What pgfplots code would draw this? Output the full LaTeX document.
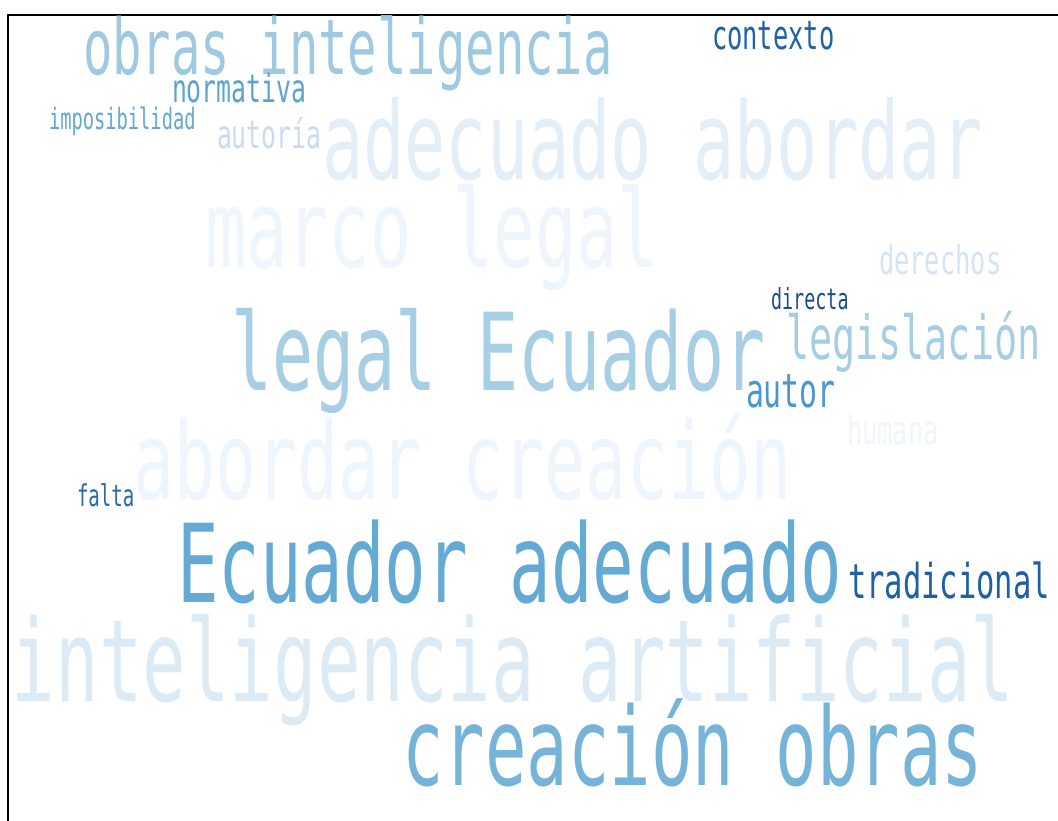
\documentclass[border=0pt]{standalone}
\usepackage{fontspec}
\setmainfont[FakeStretch=0.635]{DejaVu Sans Mono}
\usepackage{xcolor}
\usepackage{pgfplots}
\pgfplotsset{compat=1.18}

\definecolor{cA}{HTML}{9ECAE1}
\definecolor{cB}{HTML}{1F62A8}
\definecolor{cC}{HTML}{5BA3D0}
\definecolor{cD}{HTML}{62A8D3}
\definecolor{cE}{HTML}{C9DCEF}
\definecolor{cF}{HTML}{E3EEF9}
\definecolor{cG}{HTML}{EFF5FC}
\definecolor{cH}{HTML}{D4E4F4}
\definecolor{cI}{HTML}{1C4C8C}
\definecolor{cJ}{HTML}{A6CEE4}
\definecolor{cK}{HTML}{A5CDE3}
\definecolor{cL}{HTML}{4A98C9}
\definecolor{cM}{HTML}{EEF5FC}
\definecolor{cN}{HTML}{EEF5FC}
\definecolor{cO}{HTML}{2A68AB}
\definecolor{cP}{HTML}{65AAD4}
\definecolor{cQ}{HTML}{1F5FA4}
\definecolor{cR}{HTML}{DCEAF6}
\definecolor{cS}{HTML}{75B4D8}

\newcommand{\wordat}[5]{%
  \addplot[only marks, mark=none, point meta=x,
    nodes near coords={#5},
    every node near coord/.append style={anchor=base west, inner sep=0pt, outer sep=0pt,
      font=\fontsize{#3}{#3}\selectfont, text=#4},
  ] coordinates {(#1,#2)};%
}

\begin{document}
\begin{tikzpicture}
\begin{axis}[
  name=ax,
  width=1058pt, height=821pt, scale only axis,
  xmin=0, xmax=1058, ymin=0, ymax=821, y dir=reverse,
  hide axis, clip=false,
]
\wordat{83}{75}{77}{cA}{obras inteligencia}
\wordat{712}{50}{40}{cB}{contexto}
\wordat{172}{103}{39}{cC}{normativa}
\wordat{49}{130}{29.5}{cD}{imposibilidad}
\wordat{217}{149}{39}{cE}{autoría}
\wordat{322}{180}{108}{cF}{adecuado abordar}
\wordat{205}{268}{108}{cG}{marco legal}
\wordat{879}{275}{40}{cH}{derechos}
\wordat{771}{309}{29}{cI}{directa}
\wordat{231}{390}{107.5}{cJ}{legal Ecuador}
\wordat{786}{359}{60.5}{cK}{legislación}
\wordat{746}{407}{47}{cL}{autor}
\wordat{847}{444}{40}{cM}{humana}
\wordat{133}{499}{107.7}{cN}{abordar creación}
\wordat{77}{506}{30}{cO}{falta}
\wordat{177}{602}{108.8}{cP}{Ecuador adecuado}
\wordat{848}{598}{48}{cQ}{tradicional}
\wordat{12}{701}{114}{cR}{inteligencia artificial}
\wordat{402}{785}{108.6}{cS}{creación obras}
\draw[black, line width=2pt] (axis cs:8,821) -- (axis cs:8,15) -- (axis cs:1058,15);
\end{axis}
\pgfresetboundingbox
\path (ax.south west) rectangle (ax.north east);
\end{tikzpicture}
\end{document}
